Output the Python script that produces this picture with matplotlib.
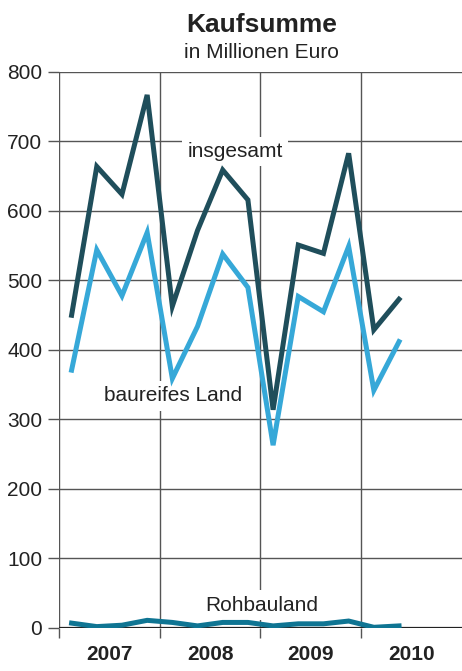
import numpy as np
from matplotlib import pyplot as plt

plt.rcParams['font.family'] = ['Liberation Sans', 'DejaVu Sans']

years = ['2007', '2008', '2009', '2010']
insgesamt = [450, 664, 624, 767, 463, 572, 659, 616, 314, 551, 539, 683, 429, 473]
baureif = [371, 544, 478, 569, 359, 434, 538, 490, 263, 477, 455, 549, 342, 412]
rohbau = [7, 2, 4, 11, 8, 3, 8, 8, 3, 6, 6, 10, 1, 3]

grid_col = '#555555'
txt_col = '#222222'

fig = plt.figure(figsize=(4.62, 6.71), dpi=100)
ax = fig.add_axes([0.1277, 0.0641, 0.8723, 0.8286])

x = np.arange(len(insgesamt)) + 0.5

ax.plot(x, insgesamt, color='#1f4e5b', lw=3.6, solid_joinstyle='miter', zorder=3)
ax.plot(x, baureif, color='#36a8d8', lw=3.6, solid_joinstyle='miter', zorder=3)
ax.plot(x, rohbau, color='#0f7593', lw=3.6, solid_joinstyle='miter', zorder=3)

ax.set_xlim(0, 16)
ax.set_ylim(0, 800)
for s in ax.spines.values():
    s.set_visible(False)

for v in range(0, 900, 100):
    ax.axhline(v, color=grid_col, lw=1.0, zorder=1)
for v in [0, 4, 8, 12]:
    ax.axvline(v, color=grid_col, lw=1.0, zorder=1)
ax.axhline(0, color='#222222', lw=1.6, zorder=1)

ax.set_yticks(range(0, 900, 100))
ax.tick_params(axis='y', length=8, width=1.0, color=grid_col, pad=4,
               labelsize=15, labelcolor=txt_col)
ax.set_xticks([0, 4, 8, 12])
ax.set_xticklabels([])
ax.set_xticks([2, 6, 10, 14], minor=True)
ax.set_xticklabels(years, minor=True, fontweight='bold', fontsize=15, color=txt_col)
ax.tick_params(axis='x', which='major', length=7, width=1.0, color=grid_col)
ax.tick_params(axis='x', which='minor', length=0, pad=12)

box = dict(facecolor='white', edgecolor='none', boxstyle='square,pad=0.25')
ax.text(7.0, 678, 'insgesamt', ha='center', va='baseline', fontsize=15,
        color=txt_col, bbox=box, zorder=2)
ax.text(4.52, 326, 'baureifes Land', ha='center', va='baseline', fontsize=15,
        color=txt_col, bbox=box, zorder=2)
ax.text(8.04, 25, 'Rohbauland', ha='center', va='baseline', fontsize=15,
        color=txt_col, bbox=box, zorder=2)

fig.text(0.566, 1 - 32 / 671, 'Kaufsumme', ha='center', va='baseline',
         fontsize=19, fontweight='bold', color=txt_col)
fig.text(0.566, 1 - 58 / 671, 'in Millionen Euro', ha='center', va='baseline',
         fontsize=15, color=txt_col)

fig.savefig('out.png', dpi=100)
